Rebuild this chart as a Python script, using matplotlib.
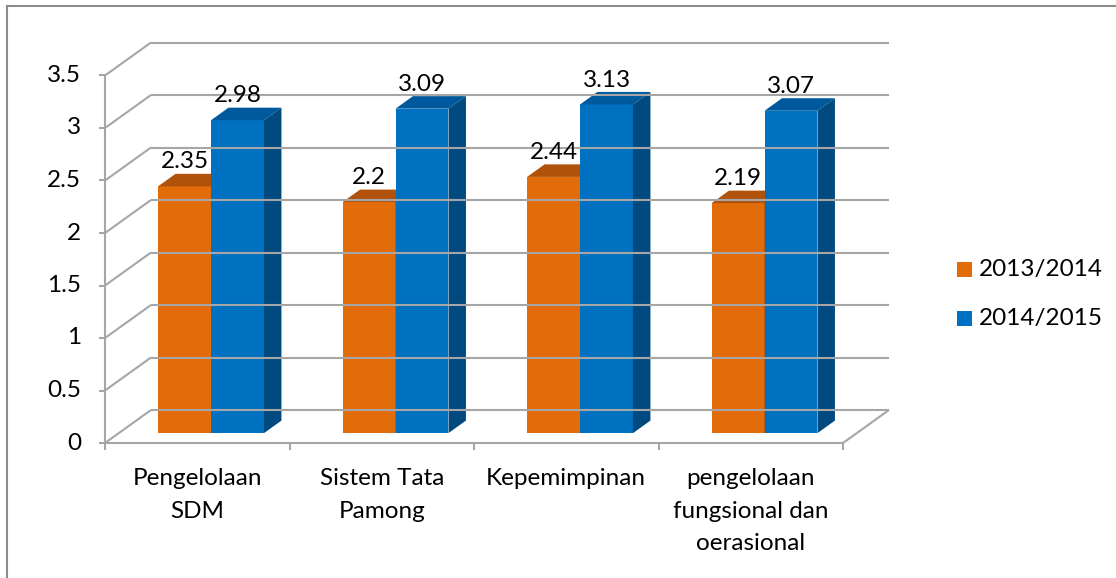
import matplotlib.pyplot as plt
from matplotlib.patches import Polygon

plt.rcParams['font.family'] = ['Lato', 'DejaVu Sans']

categories = ["Pengelolaan\nSDM", "Sistem Tata\nPamong", "Kepemimpinan",
              "pengelolaan\nfungsional dan\noerasional"]
series_names = ["2013/2014", "2014/2015"]
vals_2013 = [2.35, 2.20, 2.44, 2.19]
vals_2014 = [2.98, 3.09, 3.13, 3.07]
yticks = [0, 0.5, 1, 1.5, 2, 2.5, 3, 3.5]

front_cols = ["#E36C0A", "#0070C0"]
top_cols = ["#B0520A", "#00599C"]
side_cols = ["#8F4208", "#004A80"]
grid_col = "#A6A6A6"
FS = 17.5

# oblique depth of the whole box (in category / value units)
DX, DY = 0.249, 0.314
bar_w = 0.287
z0, z1 = 0.30, 0.68  # bar depth span as fraction of the box depth

W, H = 1116, 578
fig = plt.figure(figsize=(W / 100, H / 100), dpi=100)
ax = fig.add_axes([105 / W, (H - 443) / H, 738 / W, 367.5 / H])
ax.set_xlim(0, 4)
ax.set_ylim(0, 3.5)
ax.axis("off")

def line(xs, ys, **kw):
    kw.setdefault("color", grid_col)
    kw.setdefault("lw", 1.5)
    ax.plot(xs, ys, clip_on=False, solid_capstyle="butt", **kw)

# back wall gridlines, left wall diagonals, y ticks
for v in yticks:
    line([DX, 4 + DX], [v + DY, v + DY])
    line([0, DX], [v, v + DY])
    line([-0.033, 0], [v, v])
    ax.text(-0.13, v, f"{v:g}", ha="right", va="center", fontsize=FS)

# floor front edge, right diagonal, axis line, category ticks
line([0, 4], [0, 0])
line([4, 4 + DX], [0, DY])
line([0, 0], [0, 3.5])
for i in range(5):
    line([i, i], [0, -0.07])

# bars: front, top and side faces
for i, pair in enumerate(zip(vals_2013, vals_2014)):
    base_x = i + 0.5 + z0 * DX - bar_w
    fy = z0 * DY
    dx = (z1 - z0) * DX
    dy = (z1 - z0) * DY
    for s, v in enumerate(pair):
        x0 = base_x + s * bar_w
        x1 = x0 + bar_w
        top = fy + v
        ax.add_patch(Polygon([(x0, fy), (x1, fy), (x1, top), (x0, top)],
                             closed=True, fc=front_cols[s], ec="none", clip_on=False))
        ax.add_patch(Polygon([(x0, top), (x1, top), (x1 + dx, top + dy), (x0 + dx, top + dy)],
                             closed=True, fc=top_cols[s], ec="none", clip_on=False))
        ax.add_patch(Polygon([(x1, fy), (x1 + dx, fy + dy), (x1 + dx, top + dy), (x1, top)],
                             closed=True, fc=side_cols[s], ec="none", clip_on=False))
        ax.annotate(f"{v:g}", xy=((x0 + x1) / 2, top + dy), xytext=(0, 1),
                    textcoords="offset points", ha="center", va="bottom",
                    fontsize=FS, annotation_clip=False)

# category labels
for i, lab in enumerate(categories):
    ax.text(i + 0.5, -0.24, lab, ha="center", va="top", fontsize=FS,
            linespacing=1.67)

# legend
for s, name in enumerate(series_names):
    yy = 1 - (262 + s * 49) / H
    fig.patches.append(plt.Rectangle((957 / W, yy - 15 / H), 15 / W, 15 / H,
                                     transform=fig.transFigure, fc=front_cols[s], ec="none"))
    fig.text(979 / W, yy - 7.5 / H, name, ha="left", va="center", fontsize=FS)

# chart frame (top and left edges)
fig.add_artist(plt.Line2D([7 / W, 1], [1 - 5.5 / H, 1 - 5.5 / H], color="#8C8C8C", lw=1.5))
fig.add_artist(plt.Line2D([7 / W, 7 / W], [0, 1 - 5.5 / H], color="#8C8C8C", lw=1.5))

fig.savefig("out.png", dpi=100, facecolor="white")
